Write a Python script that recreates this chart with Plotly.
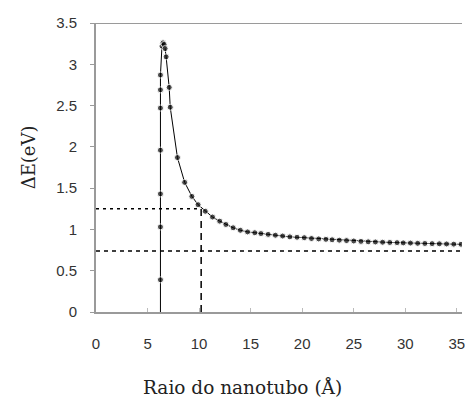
import plotly.graph_objects as go

# raio do nanotubo (Angstrom) and gap (eV)
raio = [6.25, 6.25, 6.25, 6.25, 6.25, 6.25, 6.25, 6.25,
        6.4, 6.5, 6.6, 6.7, 6.8, 7.1, 7.2, 7.9, 8.6, 9.3, 9.9,
        10.6, 11.3, 12.0, 12.6, 13.3, 14.0, 14.7, 15.4, 16.0, 16.7,
        17.4, 18.1, 18.8, 19.5, 20.2, 20.9, 21.6, 22.3, 22.9, 23.6,
        24.3, 25.0, 25.7, 26.4, 27.1, 27.8, 28.5, 29.2, 29.8, 30.5,
        31.2, 31.9, 32.6, 33.3, 34.0, 34.7, 35.4]
gap = [0.0, 0.39, 1.03, 1.43, 1.96, 2.47, 2.69, 2.87,
       3.22, 3.26, 3.24, 3.19, 3.09, 2.72, 2.48, 1.87, 1.57, 1.40, 1.30,
       1.22, 1.15, 1.10, 1.06, 1.02, 0.99, 0.97, 0.96, 0.95, 0.94,
       0.93, 0.92, 0.91, 0.905, 0.90, 0.89, 0.885, 0.88, 0.875, 0.87,
       0.865, 0.86, 0.855, 0.85, 0.848, 0.845, 0.842, 0.84, 0.837, 0.835,
       0.832, 0.83, 0.828, 0.826, 0.824, 0.822, 0.82]
marcador = [0] + [6] * (len(raio) - 1)

x_ref = 10.2
y_ref_alto = 1.25
y_ref_baixo = 0.74

xticks = [0, 5, 10, 15, 20, 25, 30, 35]
yticks = [0, 0.5, 1, 1.5, 2, 2.5, 3, 3.5]

fig = go.Figure()
fig.add_trace(go.Scatter(x=raio, y=gap, mode="lines+markers",
                         line=dict(color="black", width=1),
                         marker=dict(color="black", size=marcador),
                         showlegend=False))

# reference lines
fig.add_shape(type="line", x0=0, x1=x_ref, y0=y_ref_alto, y1=y_ref_alto,
              line=dict(color="black", width=1.5, dash="3px,4px"))
fig.add_shape(type="line", x0=0, x1=36, y0=y_ref_baixo, y1=y_ref_baixo,
              line=dict(color="black", width=1.5, dash="4px,4px"))
fig.add_shape(type="line", x0=x_ref, x1=x_ref, y0=0, y1=y_ref_alto,
              line=dict(color="black", width=1.5, dash="7px,5px"))
# top frame line
fig.add_shape(type="line", xref="paper", yref="y", x0=0, x1=1, y0=3.5, y1=3.5,
              line=dict(color="#9a9a9a", width=2))

fig.update_xaxes(range=[0, 35.5], tickvals=xticks, showline=True,
                 linecolor="#9a9a9a", linewidth=2, ticks="inside", ticklen=4,
                 tickcolor="#bbbbbb", showgrid=False, zeroline=False,
                 ticklabelstandoff=17, ticklabeloverflow="allow",
                 tickfont=dict(family="Liberation Sans, Arial", size=15, color="#333333"))
fig.update_yaxes(range=[0, 3.5], tickvals=yticks, showline=True,
                 linecolor="#9a9a9a", linewidth=2, ticks="outside", ticklen=4,
                 tickcolor="#9a9a9a", showgrid=False, zeroline=False,
                 ticklabelstandoff=10,
                 tickfont=dict(family="Liberation Sans, Arial", size=15, color="#333333"))

fig.add_annotation(text="Raio do nanotubo (Å)", xref="paper", yref="paper",
                   x=(244 - 96) / 369, y=-0.26, showarrow=False, xanchor="center", yanchor="middle",
                   font=dict(family="DejaVu Serif", size=18.5, color="#222222"))
fig.add_annotation(text="ΔE(eV)", xref="paper", yref="paper",
                   x=-0.186, y=0.535, showarrow=False, textangle=-90,
                   xanchor="center", yanchor="middle",
                   font=dict(family="DejaVu Serif", size=18, color="#222222"))

fig.update_layout(width=465, height=401, plot_bgcolor="white", paper_bgcolor="white",
                  margin=dict(l=96, r=0, t=23, b=89))

fig.write_html("out.html", config={"displayModeBar": False},
               post_script="document.body.style.margin='0';document.body.style.padding='0';")
